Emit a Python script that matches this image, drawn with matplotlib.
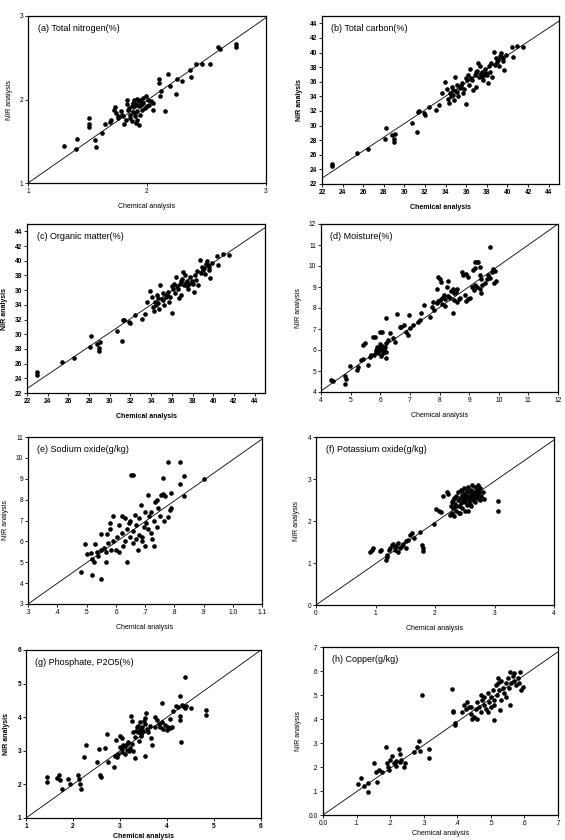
import matplotlib.pyplot as plt

plt.rcParams['font.family'] = ['Liberation Sans', 'DejaVu Sans']

# (a) Total nitrogen (%)
nitrogen = [(1.30, 1.44), (1.40, 1.41), (1.41, 1.53), (1.51, 1.78), (1.51, 1.71), (1.51, 1.67),
            (1.56, 1.51), (1.57, 1.43), (1.62, 1.60), (1.65, 1.71), (1.69, 1.73), (1.70, 1.76),
            (1.72, 1.88), (1.73, 1.91), (1.74, 1.84), (1.76, 1.80), (1.79, 1.82), (1.81, 1.71),
            (1.83, 2.00), (1.84, 1.88), (1.86, 1.82), (1.87, 1.92), (1.88, 1.96), (1.90, 1.84),
            (1.91, 1.72), (1.92, 2.01), (1.93, 1.92), (1.94, 2.00), (1.96, 1.88), (1.97, 1.96),
            (1.99, 2.04), (2.00, 1.92), (2.01, 2.00), (2.03, 1.98), (2.05, 1.88), (2.05, 1.96),
            (2.10, 2.24), (2.10, 2.20), (2.11, 2.04), (2.12, 2.10), (2.15, 1.86), (2.18, 2.31),
            (2.19, 2.16), (2.24, 2.06), (2.25, 2.25), (2.29, 2.22), (2.36, 2.35), (2.37, 2.27),
            (2.41, 2.42), (2.46, 2.43), (2.53, 2.43), (2.60, 2.63), (2.61, 2.60), (2.75, 2.66),
            (2.75, 2.63), (1.76, 1.78), (1.78, 1.86), (1.80, 1.80), (1.82, 1.76), (1.85, 1.90),
            (1.86, 1.78), (1.88, 1.85), (1.89, 1.92), (1.90, 1.80), (1.91, 1.95), (1.92, 1.86),
            (1.93, 1.98), (1.94, 1.82), (1.95, 1.93), (1.96, 1.96), (1.97, 2.02), (1.98, 1.90),
            (2.02, 1.94), (1.87, 1.74), (1.83, 1.95), (1.89, 2.00), (1.92, 1.75), (1.93, 1.70)]

# (b) Total carbon (%) -- (c) organic matter looks the same in the figure
carbon = [(23.0, 24.8), (23.0, 24.5), (25.4, 26.2), (26.5, 26.8), (28.1, 28.2), (28.2, 29.7),
          (28.8, 28.7), (29.0, 28.1), (29.0, 27.7), (29.1, 28.9), (30.7, 30.4), (31.2, 29.1),
          (31.3, 31.9), (31.4, 32.0), (31.9, 31.7), (32.0, 31.5), (32.4, 32.6), (33.1, 32.1),
          (33.4, 32.8), (33.6, 34.4), (33.9, 35.9), (34.1, 35.0), (34.2, 33.7), (34.3, 33.1),
          (34.4, 34.4), (34.6, 35.3), (34.7, 34.9), (34.7, 34.2), (34.8, 33.5), (34.9, 36.7),
          (35.1, 35.6), (35.1, 34.6), (35.2, 34.0), (35.4, 35.1), (35.6, 35.8), (35.7, 34.4),
          (36.0, 32.9), (36.1, 36.2), (36.2, 36.9), (36.3, 35.6), (36.4, 37.8), (36.6, 36.2),
          (36.7, 34.9), (36.8, 36.9), (36.9, 35.3), (37.0, 37.5), (37.1, 38.5), (37.2, 36.7),
          (37.3, 38.1), (37.5, 37.3), (37.6, 36.2), (37.7, 36.9), (37.8, 37.8), (38.0, 36.9),
          (38.1, 35.8), (38.2, 38.1), (38.3, 37.4), (38.5, 36.7), (38.7, 40.1), (38.9, 39.2),
          (39.1, 39.0), (39.4, 39.9), (39.5, 39.4), (39.6, 38.8), (39.6, 39.2), (39.7, 37.6),
          (39.9, 39.7), (40.5, 39.4), (40.4, 40.7), (40.9, 40.9), (41.5, 40.8), (35.0, 34.8),
          (35.5, 35.4), (36.5, 36.5), (37.4, 37.0), (36.9, 37.3), (37.9, 37.2), (38.4, 38.6),
          (39.2, 38.2), (39.3, 39.5), (35.8, 35.0), (34.5, 34.0), (36.0, 36.5), (37.5, 36.6),
          (38.8, 38.3), (39.0, 38.7)]
organic = carbon

# (d) Moisture (%)
moisture = [(4.33, 4.57), (4.42, 4.54), (4.80, 4.76), (4.86, 4.60), (4.80, 4.38), (4.99, 5.24),
            (5.23, 5.05), (5.25, 5.20), (5.34, 5.52), (5.42, 5.56), (5.42, 6.24), (5.48, 6.35),
            (5.59, 5.29), (5.64, 5.65), (5.70, 5.76), (5.76, 6.63), (5.81, 6.60), (5.80, 5.75),
            (5.87, 6.00), (5.92, 5.85), (5.98, 6.08), (6.02, 5.70), (6.09, 6.00), (6.15, 6.16),
            (6.21, 6.32), (6.26, 6.48), (5.98, 6.87), (6.06, 6.87), (6.21, 5.60), (6.21, 7.51),
            (6.32, 6.83), (6.43, 6.56), (6.51, 6.40), (6.58, 7.71), (6.66, 7.11), (6.71, 7.08),
            (6.80, 7.19), (6.88, 6.87), (6.94, 6.71), (6.96, 7.67), (7.00, 7.05), (7.10, 7.20),
            (7.29, 7.35), (7.34, 7.43), (7.39, 7.75), (7.48, 8.14), (7.68, 7.58), (7.78, 8.30),
            (7.80, 7.90), (7.74, 8.05), (5.95, 5.95), (6.05, 6.20), (6.10, 5.85), (6.00, 6.30),
            (5.90, 6.15), (6.12, 6.05), (6.18, 5.90), (5.85, 5.90), (7.90, 8.90), (7.96, 9.48),
            (8.00, 9.40), (8.05, 9.25), (8.30, 9.28), (8.24, 9.00), (7.90, 8.25), (7.95, 8.35),
            (8.00, 8.40), (8.10, 8.50), (8.15, 8.60), (8.20, 8.45), (8.30, 8.55), (8.35, 8.50),
            (8.10, 8.20), (8.20, 8.10), (8.40, 8.80), (8.45, 8.90), (8.50, 8.70), (8.55, 8.75),
            (8.60, 8.90), (8.47, 7.74), (8.50, 8.40), (8.60, 8.30), (8.65, 8.45), (8.70, 8.50),
            (8.86, 8.60), (8.90, 8.35), (8.97, 8.45), (9.03, 8.50), (9.10, 9.00), (9.15, 8.85),
            (9.20, 9.10), (9.25, 9.00), (9.36, 8.90), (9.40, 8.70), (9.45, 9.10), (9.53, 9.20),
            (9.60, 9.40), (9.65, 9.56), (9.70, 9.45), (9.76, 9.70), (9.80, 9.85), (9.87, 9.75),
            (9.90, 9.30), (9.85, 9.17), (9.37, 9.56), (9.40, 9.40), (8.90, 9.64), (8.97, 9.49),
            (8.75, 9.72), (8.80, 9.56), (9.14, 9.80), (9.20, 9.90), (9.36, 9.96), (9.20, 10.20),
            (9.25, 10.20), (9.30, 10.18), (9.70, 10.90)]

# (e) Sodium oxide (g/kg)
sodium = [(0.48, 4.55), (0.52, 4.37), (0.55, 4.19), (0.494, 5.88), (0.50, 5.40), (0.515, 5.45),
          (0.52, 5.15), (0.525, 5.00), (0.528, 5.88), (0.535, 5.50), (0.54, 5.30), (0.55, 5.60),
          (0.55, 6.35), (0.56, 5.70), (0.565, 5.00), (0.568, 5.50), (0.57, 6.35), (0.575, 5.90),
          (0.58, 6.60), (0.58, 6.90), (0.585, 5.60), (0.59, 7.20), (0.59, 6.00), (0.60, 5.60),
          (0.605, 6.20), (0.61, 6.80), (0.61, 5.50), (0.62, 6.40), (0.62, 7.20), (0.625, 5.80),
          (0.63, 6.00), (0.632, 7.10), (0.64, 6.60), (0.64, 5.00), (0.645, 6.90), (0.65, 6.20),
          (0.65, 7.00), (0.652, 9.20), (0.658, 9.20), (0.66, 5.90), (0.66, 6.50), (0.665, 7.25),
          (0.67, 6.10), (0.67, 6.80), (0.675, 5.60), (0.68, 6.30), (0.68, 7.10), (0.685, 7.75),
          (0.69, 6.20), (0.69, 6.00), (0.695, 6.70), (0.70, 7.40), (0.70, 5.80), (0.705, 6.90),
          (0.71, 8.20), (0.71, 6.60), (0.715, 7.20), (0.72, 6.40), (0.72, 7.40), (0.725, 6.10),
          (0.73, 7.00), (0.73, 5.80), (0.735, 7.90), (0.74, 6.70), (0.74, 8.00), (0.745, 7.60),
          (0.75, 7.20), (0.755, 8.20), (0.76, 8.25), (0.762, 9.05), (0.765, 7.00), (0.77, 8.15),
          (0.78, 7.15), (0.78, 9.80), (0.785, 7.50), (0.79, 8.30), (0.79, 7.60), (0.82, 9.80),
          (0.82, 8.75), (0.835, 9.15), (0.835, 8.15), (0.90, 9.00)]

# (f) Potassium oxide (g/kg)
potassium = [(0.90, 1.27), (0.94, 1.32), (0.96, 1.35), (1.08, 1.29), (1.10, 1.31), (1.18, 1.07),
             (1.19, 1.15), (1.20, 1.19), (1.22, 1.30), (1.25, 1.35), (1.28, 1.42), (1.30, 1.45),
             (1.32, 1.38), (1.35, 1.40), (1.38, 1.47), (1.33, 1.30), (1.37, 1.27), (1.41, 1.35),
             (1.44, 1.40), (1.46, 1.46), (1.51, 1.53), (1.52, 1.35), (1.55, 1.55), (1.58, 1.67),
             (1.61, 1.72), (1.64, 1.59), (1.75, 1.75), (1.78, 1.43), (1.79, 1.35), (1.79, 1.29),
             (1.99, 1.94), (2.02, 2.28), (2.06, 2.25), (2.10, 2.22), (2.14, 2.60), (2.21, 2.70),
             (2.22, 2.64), (3.06, 2.48), (3.06, 2.25), (2.82, 2.52), (2.25, 2.15), (2.27, 2.35),
             (2.28, 2.45), (2.28, 2.20), (2.30, 2.50), (2.30, 2.30), (2.32, 2.55), (2.32, 2.12),
             (2.34, 2.40), (2.35, 2.60), (2.36, 2.25), (2.38, 2.50), (2.38, 2.68), (2.40, 2.35),
             (2.40, 2.20), (2.42, 2.55), (2.43, 2.75), (2.44, 2.42), (2.45, 2.62), (2.46, 2.30),
             (2.47, 2.50), (2.48, 2.78), (2.50, 2.45), (2.50, 2.65), (2.50, 2.25), (2.52, 2.55),
             (2.53, 2.72), (2.54, 2.38), (2.55, 2.60), (2.56, 2.80), (2.57, 2.48), (2.58, 2.68),
             (2.60, 2.55), (2.60, 2.35), (2.61, 2.75), (2.62, 2.62), (2.63, 2.85), (2.64, 2.50),
             (2.65, 2.70), (2.66, 2.58), (2.67, 2.80), (2.68, 2.45), (2.69, 2.65), (2.70, 2.75),
             (2.71, 2.55), (2.72, 2.85), (2.73, 2.62), (2.74, 2.70), (2.75, 2.50), (2.76, 2.78),
             (2.78, 2.60), (2.80, 2.70), (2.35, 2.35), (2.42, 2.18), (2.55, 2.25), (2.48, 2.58),
             (2.58, 2.40), (2.45, 2.72)]

# (g) Phosphate, P2O5 (%)
phosphate = [(1.44, 2.21), (1.44, 2.06), (1.67, 2.19), (1.71, 2.27), (1.72, 2.14), (1.76, 1.86),
             (1.90, 2.17), (1.94, 2.02), (2.11, 2.27), (2.13, 2.17), (2.15, 2.01), (2.16, 1.87),
             (2.24, 2.81), (2.28, 3.18), (2.50, 2.66), (2.56, 3.06), (2.57, 2.27), (2.59, 2.21),
             (2.69, 3.07), (2.72, 3.50), (2.75, 2.66), (2.87, 2.51), (2.89, 2.85), (2.93, 2.81),
             (2.96, 2.91), (2.91, 3.31), (3.00, 3.45), (3.04, 3.38), (3.00, 3.10), (3.04, 3.05),
             (3.07, 3.17), (3.11, 3.13), (3.14, 3.03), (3.18, 3.25), (3.21, 3.08), (3.25, 3.20),
             (3.28, 3.00), (3.32, 2.80), (3.23, 4.05), (3.25, 3.89), (3.28, 3.57), (3.32, 3.40),
             (3.35, 3.60), (3.39, 3.75), (3.43, 3.85), (3.46, 3.70), (3.50, 3.90), (3.53, 3.80),
             (3.57, 3.65), (3.60, 3.55), (3.64, 3.75), (3.53, 3.97), (3.55, 4.12), (3.53, 2.85),
             (3.67, 3.38), (3.69, 3.18), (3.74, 3.72), (3.78, 3.92), (3.82, 3.80), (3.85, 3.72),
             (3.89, 3.87), (3.92, 3.65), (3.96, 3.78), (3.99, 3.62), (4.03, 3.72), (4.06, 3.68),
             (4.10, 3.72), (3.90, 4.42), (3.74, 4.02), (4.06, 3.94), (4.12, 4.19), (4.20, 4.34),
             (4.24, 4.30), (4.31, 4.37), (4.33, 4.32), (4.38, 4.27), (4.41, 4.34), (4.52, 4.28),
             (4.28, 4.63), (4.28, 4.04), (4.28, 3.92), (4.29, 3.26), (4.38, 5.21), (4.84, 4.22),
             (4.84, 4.07), (3.38, 3.55), (3.42, 3.62), (3.45, 3.50), (3.48, 3.58), (3.36, 3.70),
             (3.44, 3.45), (3.40, 3.30), (3.05, 2.95), (3.10, 2.90), (3.15, 3.20), (3.20, 3.00)]

# (h) Copper (g/kg)
copper = [(0.103, 0.129), (0.114, 0.153), (0.123, 0.122), (0.133, 0.132), (0.133, 0.094),
          (0.151, 0.215), (0.158, 0.180), (0.161, 0.139), (0.166, 0.187), (0.176, 0.180),
          (0.189, 0.285), (0.191, 0.215), (0.193, 0.200), (0.198, 0.187), (0.201, 0.228),
          (0.206, 0.245), (0.211, 0.215), (0.216, 0.204), (0.217, 0.226), (0.225, 0.274),
          (0.228, 0.254), (0.230, 0.222), (0.232, 0.228), (0.242, 0.200), (0.245, 0.215),
          (0.270, 0.263), (0.280, 0.284), (0.285, 0.309), (0.288, 0.268), (0.294, 0.500),
          (0.315, 0.277), (0.315, 0.236), (0.384, 0.523), (0.386, 0.430), (0.387, 0.434),
          (0.394, 0.384), (0.394, 0.374), (0.414, 0.430), (0.420, 0.460), (0.425, 0.440),
          (0.430, 0.470), (0.435, 0.450), (0.440, 0.420), (0.445, 0.400), (0.450, 0.410),
          (0.455, 0.440), (0.460, 0.470), (0.465, 0.450), (0.470, 0.500), (0.470, 0.430),
          (0.475, 0.480), (0.480, 0.460), (0.485, 0.440), (0.490, 0.510), (0.495, 0.470),
          (0.500, 0.490), (0.500, 0.450), (0.505, 0.520), (0.508, 0.395), (0.510, 0.480),
          (0.515, 0.540), (0.518, 0.500), (0.520, 0.550), (0.525, 0.520), (0.528, 0.437),
          (0.530, 0.560), (0.535, 0.530), (0.540, 0.510), (0.545, 0.550), (0.550, 0.570),
          (0.555, 0.530), (0.558, 0.458), (0.560, 0.550), (0.565, 0.580), (0.568, 0.590),
          (0.570, 0.560), (0.575, 0.540), (0.580, 0.570), (0.585, 0.550), (0.588, 0.596),
          (0.590, 0.520), (0.595, 0.535), (0.440, 0.450), (0.460, 0.400), (0.480, 0.490),
          (0.490, 0.430), (0.510, 0.460), (0.530, 0.480), (0.545, 0.490), (0.520, 0.570),
          (0.558, 0.596)]

titles = ['(a) Total nitrogen(%)', '(b) Total carbon(%)', '(c) Organic matter(%)', '(d) Moisture(%)',
          '(e) Sodium oxide(g/kg)', '(f) Potassium oxide(g/kg)', '(g) Phosphate, P2O5(%)',
          '(h) Copper(g/kg)']
datasets = [nitrogen, carbon, organic, moisture, sodium, potassium, phosphate, copper]

# axis ranges / ticks
x_ranges = [(1, 3), (22, 45), (22, 45), (4, 12), (0.3, 1.1), (0, 4), (1, 6), (0, 0.7)]
y_ranges = [(1, 3), (22, 45), (22, 45), (4, 12), (3, 11), (0, 4), (1, 6), (0, 0.7)]
x_ticks = [[1, 2, 3], list(range(22, 45, 2)), list(range(22, 45, 2)), list(range(4, 13)),
           [0.3, 0.4, 0.5, 0.6, 0.7, 0.8, 0.9, 1.0, 1.1], [0, 1, 2, 3, 4], [1, 2, 3, 4, 5, 6],
           [0, 0.1, 0.2, 0.3, 0.4, 0.5, 0.6, 0.7]]
y_ticks = [[1, 2, 3], list(range(22, 45, 2)), list(range(22, 45, 2)), list(range(4, 13)),
           list(range(3, 12)), [0, 1, 2, 3, 4], [1, 2, 3, 4, 5, 6],
           [0, 0.1, 0.2, 0.3, 0.4, 0.5, 0.6, 0.7]]
na_x_labels = ['.3', '.4', '.5', '.6', '.7', '.8', '.9', '1.0', '1.1']
cu_labels = ['0.0', '.1', '.2', '.3', '.4', '.5', '.6', '.7']

# fitted lines: (y at x-min, y at x-max)
fit_ends = [(1.0, 2.98), (22.8, 44.3), (22.6, 44.5), (4.05, 12.0), (3.0, 10.9), (0.0, 3.93),
            (1.0, 6.0), (0.0, 0.68)]

# axes boxes in pixels: left, top, right, bottom
boxes = [(28, 16, 266, 183), (322, 16, 559, 184), (27, 224, 265, 393), (321, 224, 558, 392),
         (28, 437, 262, 604), (316, 437, 554, 605), (26, 650, 261, 818), (323, 647, 558, 815)]
bold_panels = [1, 2, 6]

W, H = 565, 840
fig = plt.figure(figsize=(W / 100, H / 100), dpi=100)

for i, pts in enumerate(datasets):
    l, t, r, b = boxes[i]
    ax = fig.add_axes([l / W, 1 - b / H, (r - l) / W, (b - t) / H])
    xs = [p[0] for p in pts]
    ys = [p[1] for p in pts]
    ax.scatter(xs, ys, s=11, color='black', linewidths=0, zorder=3)
    ax.plot(x_ranges[i], fit_ends[i], color='black', linewidth=0.6, zorder=2)
    ax.set_xlim(x_ranges[i])
    ax.set_ylim(y_ranges[i])
    ax.set_xticks(x_ticks[i])
    ax.set_yticks(y_ticks[i])
    if i == 4:
        ax.set_xticklabels(na_x_labels)
    if i == 7:
        ax.set_xticklabels(cu_labels)
        ax.set_yticklabels(cu_labels)
    wt = 'bold' if i in bold_panels else 'normal'
    ax.tick_params(direction='out', length=2, width=0.6, labelsize=4.8, pad=1.5)
    for lab in ax.get_xticklabels() + ax.get_yticklabels():
        lab.set_fontweight(wt)
    for sp in ax.spines.values():
        sp.set_linewidth(0.9)
    ax.set_xlabel('Chemical analysis', fontsize=5, fontweight=wt,
                  labelpad=2.5 if i >= 6 else 6)
    ax.set_ylabel('NIR analysis', fontsize=5, fontweight=wt, labelpad=5)
    ax.text(0.04, 0.95, titles[i], transform=ax.transAxes, fontsize=6.5, va='top', ha='left')

fig.savefig('out.png', dpi=100)
